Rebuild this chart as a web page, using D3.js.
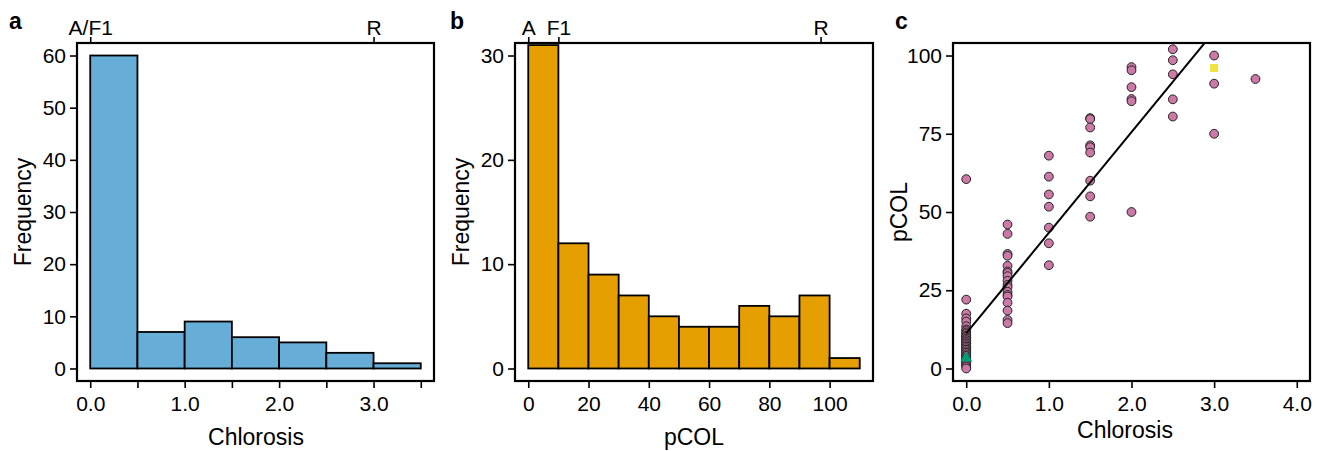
<!DOCTYPE html>
<html>
<head>
<meta charset="utf-8">
<script src="https://cdn.jsdelivr.net/npm/d3@7/dist/d3.min.js"></script>
<style>
  body { margin: 0; background: #fff; }
  svg text { font-family: "Liberation Sans", Arial, Helvetica, sans-serif; fill: #000; }
</style>
</head>
<body>
<svg id="chart" width="1321" height="451"></svg>
<script>
// a: chlorosis histogram
var chlorosisBreaks = [0, 0.5, 1, 1.5, 2, 2.5, 3, 3.5];
var chlorosisCounts = [60, 7, 9, 6, 5, 3, 1];
var chlorosisMarks = ["A/F1", "R"];
var chlorosisMarkAt = [0, 3];

// b: pCOL histogram
var pcolBreaks = [0, 10, 20, 30, 40, 50, 60, 70, 80, 90, 100, 110];
var pcolCounts = [31, 12, 9, 7, 5, 4, 4, 6, 5, 7, 1];
var pcolMarks = ["A", "F1", "R"];
var pcolMarkAt = [0, 10, 97];

// c: pCOL vs chlorosis, progeny grouped by chlorosis score
var chlorosisLevels = [0, 0.5, 1, 1.5, 2, 2.5, 3, 3.5];
var pcolByLevel = [
  [60.5, 22, 17.5, 16, 15, 13.5, 12.5, 12, 11.5, 11, 10.5, 10, 10, 9.5, 9, 9, 8.5, 8, 8, 7.5, 7, 7,
   6.5, 6, 6, 5.5, 5, 5, 4.5, 4, 4, 3.5, 3, 3, 2.5, 2, 2, 1.5, 1, 1, 0.5, 0],
  [46, 43, 36.6, 36, 32.8, 31, 30.5, 29.5, 28, 26.7, 26, 24.5, 23.5, 23, 21, 18.5, 15.5, 14.5],
  [68, 61.3, 55.6, 51.7, 45, 40, 33],
  [80, 79.7, 77, 71.3, 70.7, 69, 60, 55, 48.5],
  [96.3, 95.3, 89.9, 86.1, 85.4, 50],
  [102, 98.5, 94, 86, 80.5],
  [100, 91, 75],
  [92.5]
];
// parents: A/F1 (triangle) and R (square)
var parentChlorosis = [0, 3];
var parentPcol = [3.3, 96];

var svg = d3.select("#chart");
var plotTop = 43, plotBottom = 381;

function padDomain(lo, hi) {
  var p = (hi - lo) * 0.04;
  return [lo - p, hi + p];
}

function styleAxis(g) {
  g.select(".domain").remove();
  g.selectAll(".tick line").attr("stroke", "#000").attr("stroke-width", 1.6);
  g.selectAll(".tick text").style("font-size", "21px");
}

function frame(g, left, right) {
  g.append("rect")
    .attr("x", left).attr("y", plotTop)
    .attr("width", right - left).attr("height", plotBottom - plotTop)
    .attr("fill", "none").attr("stroke", "#000").attr("stroke-width", 2.2);
}

function panelLetter(x, t) {
  svg.append("text").attr("x", x).attr("y", 29)
    .style("font-size", "23px").style("font-weight", "bold").text(t);
}

function yTitle(x, t) {
  svg.append("text")
    .attr("transform", "translate(" + x + "," + ((plotTop + plotBottom) / 2) + ") rotate(-90)")
    .attr("text-anchor", "middle").style("font-size", "23px").text(t);
}

function xTitle(x, y, t) {
  svg.append("text").attr("x", x).attr("y", y)
    .attr("text-anchor", "middle").style("font-size", "23px").text(t);
}

function drawHist(opt) {
  var g = svg.append("g");
  var x = d3.scaleLinear().domain(padDomain(opt.breaks[0], opt.breaks[opt.breaks.length - 1]))
    .range([opt.left, opt.right]);
  var y = d3.scaleLinear().domain(padDomain(0, opt.yMax)).range([plotBottom, plotTop]);

  g.selectAll("rect.bar")
    .data(opt.counts)
    .enter().append("rect")
      .attr("class", "bar")
      .attr("x", function(d, i) { return x(opt.breaks[i]); })
      .attr("width", function(d, i) { return x(opt.breaks[i + 1]) - x(opt.breaks[i]); })
      .attr("y", function(d) { return y(d); })
      .attr("height", function(d) { return y(0) - y(d); })
      .attr("fill", opt.color)
      .attr("stroke", "#000")
      .attr("stroke-width", 1.8);

  frame(g, opt.left, opt.right);

  var ax = g.append("g").attr("transform", "translate(0," + plotBottom + ")")
    .call(d3.axisBottom(x).tickValues(opt.xTicks).tickSize(7).tickFormat(opt.xFormat));
  styleAxis(ax);
  ax.selectAll(".tick text").attr("y", 30).attr("dy", 0);

  var ay = g.append("g").attr("transform", "translate(" + opt.left + ",0)")
    .call(d3.axisLeft(y).tickValues(opt.yTicks).tickSize(7).tickPadding(4));
  styleAxis(ay);

  var at = g.append("g").attr("transform", "translate(0," + plotTop + ")")
    .call(d3.axisTop(x).tickValues(opt.markAt).tickSize(6)
      .tickFormat(function(d, i) { return opt.marks[i]; }));
  styleAxis(at);
  at.selectAll(".tick text").attr("y", -8).attr("dy", 0);
}

// panel a
drawHist({
  left: 77, right: 434,
  breaks: chlorosisBreaks, counts: chlorosisCounts, yMax: 60,
  color: "#66AED8",
  xTicks: chlorosisBreaks,
  xFormat: function(d) { return d % 1 === 0 ? d3.format(".1f")(d) : ""; },
  yTicks: [0, 10, 20, 30, 40, 50, 60],
  marks: chlorosisMarks, markAt: chlorosisMarkAt
});
panelLetter(9, "a");
yTitle(31, "Frequency");
xTitle(256, 445, "Chlorosis");

// panel b
drawHist({
  left: 515, right: 873,
  breaks: pcolBreaks, counts: pcolCounts, yMax: 30,
  color: "#E69F00",
  xTicks: [0, 20, 40, 60, 80, 100],
  xFormat: d3.format("d"),
  yTicks: [0, 10, 20, 30],
  marks: pcolMarks, markAt: pcolMarkAt
});
panelLetter(450, "b");
yTitle(469, "Frequency");
xTitle(694, 445, "pCOL");

// panel c
(function() {
  var left = 953, right = 1310;
  var g = svg.append("g");
  var x = d3.scaleLinear().domain(padDomain(0, 4)).range([left, right]);
  var y = d3.scaleLinear().domain(padDomain(0, 100)).range([plotBottom, plotTop]);

  var pts = [];
  chlorosisLevels.forEach(function(lv, i) {
    pcolByLevel[i].forEach(function(v) { pts.push([lv, v]); });
  });

  // least squares fit
  var mx = d3.mean(pts, function(d) { return d[0]; });
  var my = d3.mean(pts, function(d) { return d[1]; });
  var sxy = d3.sum(pts, function(d) { return (d[0] - mx) * (d[1] - my); });
  var sxx = d3.sum(pts, function(d) { return (d[0] - mx) * (d[0] - mx); });
  var slope = sxy / sxx, icpt = my - slope * mx;

  svg.append("clipPath").attr("id", "clipC")
    .append("rect").attr("x", left).attr("y", plotTop)
    .attr("width", right - left).attr("height", plotBottom - plotTop);

  g.selectAll("circle")
    .data(pts)
    .enter().append("circle")
      .attr("cx", function(d) { return x(d[0]); })
      .attr("cy", function(d) { return y(d[1]); })
      .attr("r", 4.4)
      .attr("fill", "#CC79A7")
      .attr("stroke", "#222")
      .attr("stroke-width", 1);

  var xEnd = 4;
  g.append("line")
    .attr("clip-path", "url(#clipC)")
    .attr("x1", x(0)).attr("y1", y(icpt))
    .attr("x2", x(xEnd)).attr("y2", y(icpt + slope * xEnd))
    .attr("stroke", "#000").attr("stroke-width", 2);

  // parents
  g.append("path")
    .attr("d", d3.symbol().type(d3.symbolTriangle).size(60)())
    .attr("transform", "translate(" + x(parentChlorosis[0]) + "," + y(parentPcol[0]) + ")")
    .attr("fill", "#009E73");
  g.append("rect")
    .attr("x", x(parentChlorosis[1]) - 4).attr("y", y(parentPcol[1]) - 4)
    .attr("width", 8).attr("height", 8)
    .attr("fill", "#F0E442");

  frame(g, left, right);

  var ax = g.append("g").attr("transform", "translate(0," + plotBottom + ")")
    .call(d3.axisBottom(x).tickValues([0, 1, 2, 3, 4]).tickSize(7).tickFormat(d3.format(".1f")));
  styleAxis(ax);
  ax.selectAll(".tick text").attr("y", 30).attr("dy", 0);

  var ay = g.append("g").attr("transform", "translate(" + left + ",0)")
    .call(d3.axisLeft(y).tickValues([0, 25, 50, 75, 100]).tickSize(7).tickPadding(4));
  styleAxis(ay);
})();
panelLetter(895, "c");
yTitle(907, "pCOL");
xTitle(1125, 438, "Chlorosis");
</script>
</body>
</html>
